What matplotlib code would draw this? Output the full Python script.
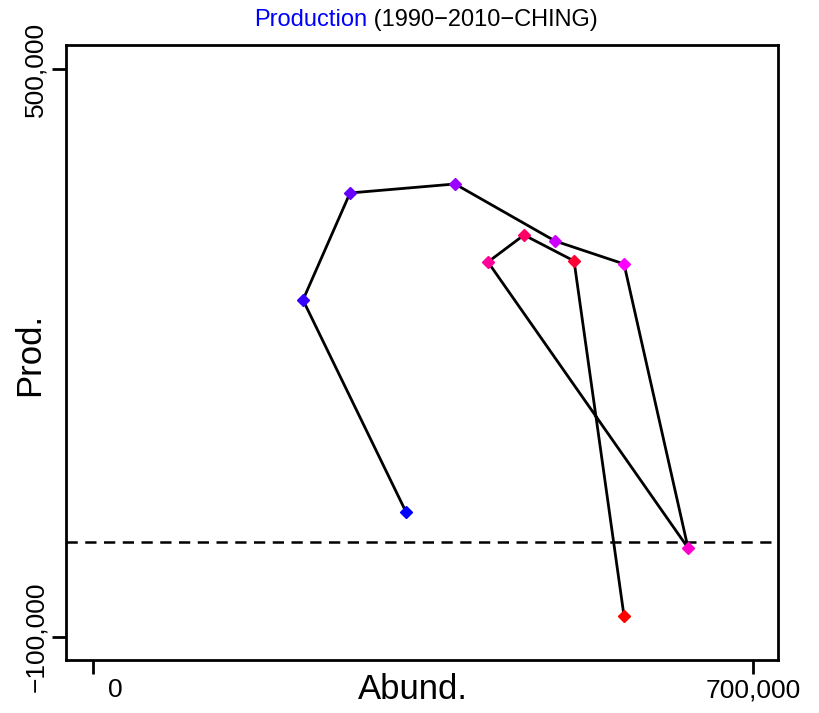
import matplotlib
matplotlib.use("Agg")
import matplotlib.pyplot as plt
import matplotlib.transforms as mtransforms

plt.rcParams['font.family'] = ['Liberation Sans', 'DejaVu Sans']

# abundance vs production, one point per step, blue -> red
abund = [332000, 222700, 272600, 383900, 490000, 563200,
         631100, 418900, 457100, 510200, 563200]
prod = [32000, 256000, 369000, 378500, 318300, 294000,
        -6000, 296100, 324600, 297200, -77900]
colors = ['#0000FF', '#3300FF', '#6600FF', '#9900FF', '#CC00FF', '#FF00FF',
          '#FF00CC', '#FF0099', '#FF0066', '#FF0033', '#FF0000']

xticks = [0, 700000]
xticklabels = ['0', '700,000']
yticks = [-100000, 500000]
yticklabels = ['\u2212100,000', '500,000']

fig = plt.figure(figsize=(8.19, 7.13), dpi=100)
ax = fig.add_axes([66 / 819, 1 - 660 / 713, (778 - 66) / 819, (660 - 45) / 713])

ax.axhline(0, color='black', lw=1.8, ls=(0, (4.5, 3)), zorder=1)
ax.plot(abund, prod, color='black', lw=2, zorder=2)
for x, y, c in zip(abund, prod, colors):
    ax.plot(x, y, marker='D', ms=6.5, color=c, mec=c, zorder=3)

ax.set_xlim(-28640, 726500)
ax.set_ylim(-124300, 525300)

for s in ax.spines.values():
    s.set_linewidth(2)

ax.set_xticks(xticks)
ax.set_xticklabels(xticklabels, fontsize=19)
ax.set_yticks(yticks)
ax.set_yticklabels(yticklabels, fontsize=19, rotation=90, va='center')
ax.tick_params(axis='both', length=10, width=2, pad=3)

# the "0" label sits a little right of its tick
lab0 = ax.get_xticklabels()[0]
lab0.set_transform(lab0.get_transform() + mtransforms.ScaledTranslation(22 / 100, 0, fig.dpi_scale_trans))

ax.set_xlabel('Abund.', fontsize=25)
ax.xaxis.set_label_coords(0.487, -0.021)
ax.set_ylabel('Prod.', fontsize=25)
ax.yaxis.set_label_coords(-0.028, 0.497)

fig.text(367 / 819, 0.972, 'Production', color='blue', fontsize=17, ha='right', va='center')
fig.text(367 / 819, 0.972, ' (1990\u22122010\u2212CHING)', color='black', fontsize=17, ha='left', va='center')

fig.savefig('out.png', dpi=100)
